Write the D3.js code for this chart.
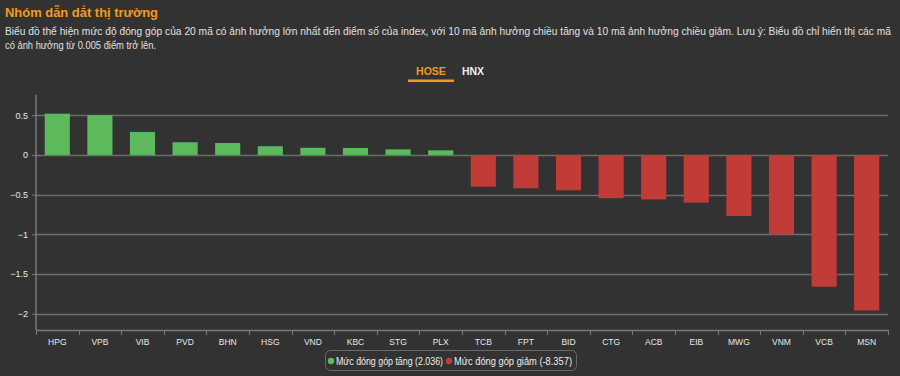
<!DOCTYPE html>
<html>
<head>
<meta charset="utf-8">
<script src="https://cdn.jsdelivr.net/npm/d3@7"></script>
<style>
  body { margin: 0; background: #323232; font-family: "Liberation Sans", Arial, sans-serif; }
  svg { display: block; }
</style>
</head>
<body>
<script>
// ma chung khoan va muc dong gop
let maCK = ["HPG", "VPB", "VIB", "PVD", "BHN", "HSG", "VND", "KBC", "STG", "PLX",
            "TCB", "FPT", "BID", "CTG", "ACB", "EIB", "MWG", "VNM", "VCB", "MSN"];
let dongGop = [0.52, 0.5, 0.29, 0.16, 0.15, 0.11, 0.09, 0.088, 0.07, 0.058,
               -0.40, -0.42, -0.445, -0.545, -0.56, -0.6, -0.77, -1.0, -1.66, -1.96];
let yTicks = [0.5, 0, -0.5, -1, -1.5, -2];
let tongTang = "2.036";
let tongGiam = "-8.357";

let width = 900;
let height = 376;
let marges = { top: 96, right: 12, bottom: 46, left: 36 };

let svg = d3.select("body").append("svg")
    .attr("width", width)
    .attr("height", height);

// Tieu de
svg.append("text")
    .attr("x", 5).attr("y", 17)
    .attr("fill", "#f39a1e")
    .style("font-size", "13.5px")
    .style("font-weight", "bold")
    .attr("textLength", 153)
    .attr("lengthAdjust", "spacingAndGlyphs")
    .text("Nhóm dẫn dắt thị trường");

let moTa = ["Biểu đồ thể hiện mức độ đóng góp của 20 mã có ảnh hưởng lớn nhất đến điểm số của index, với 10 mã ảnh hưởng chiều tăng và 10 mã ảnh hưởng chiều giảm. Lưu ý: Biểu đồ chỉ hiển thị các mã",
            "có ảnh hưởng từ 0.005 điểm trở lên."];
let moTaDai = [886, 151];
svg.selectAll(".mota").data(moTa).enter().append("text")
    .attr("class", "mota")
    .attr("x", 5)
    .attr("y", (d, i) => 35 + i * 14)
    .attr("fill", "#e0e0e0")
    .style("font-size", "10.6px")
    .attr("textLength", (d, i) => moTaDai[i])
    .attr("lengthAdjust", "spacingAndGlyphs")
    .text(d => d);

// Tabs
svg.append("text").attr("x", 431).attr("y", 75)
    .attr("text-anchor", "middle")
    .attr("fill", "#f39a1e")
    .style("font-size", "10.5px").style("font-weight", "bold")
    .text("HOSE");
svg.append("rect").attr("x", 408).attr("y", 79.5).attr("width", 46).attr("height", 2.5)
    .attr("fill", "#f39a1e");
svg.append("text").attr("x", 473).attr("y", 75)
    .attr("text-anchor", "middle")
    .attr("fill", "#eeeeee")
    .style("font-size", "10.5px").style("font-weight", "bold")
    .text("HNX");

let x = d3.scaleBand()
    .domain(maCK)
    .range([marges.left, width - marges.right])
    .paddingInner(0.41)
    .paddingOuter(0.205);

let y = d3.scaleLinear()
    .domain([-2.205, 0.755])
    .range([height - marges.bottom, marges.top - 1]);

// Luoi ngang
svg.append("g")
    .selectAll("line")
    .data(yTicks)
    .enter().append("line")
    .attr("x1", marges.left).attr("x2", width - marges.right)
    .attr("y1", d => Math.round(y(d)) + 0.5)
    .attr("y2", d => Math.round(y(d)) + 0.5)
    .attr("stroke", "#6e6e6e")
    .attr("stroke-width", 1.5);

// Truc y
let axeY = svg.append("g")
    .attr("transform", "translate(" + marges.left + ",0)")
    .call(d3.axisLeft(y).tickValues(yTicks).tickSize(4).tickPadding(4).tickFormat(d => d3.format("")(d)));
axeY.select(".domain").attr("stroke", "#7a7a7a").attr("stroke-width", 1.5)
    .attr("d", "M0," + y.range()[1] + "V" + y.range()[0]);
axeY.selectAll(".tick line").attr("stroke", "#7a7a7a");
axeY.selectAll(".tick text").attr("fill", "#e8e8e8")
    .style("font-size", "9px").style("font-family", "Liberation Sans, Arial, sans-serif");

// Truc x
let yBas = y.range()[0];
let axeX = svg.append("g")
    .attr("transform", "translate(0," + yBas + ")")
    .call(d3.axisBottom(x).tickSize(0).tickPadding(9));
axeX.select(".domain").attr("stroke", "#7a7a7a").attr("stroke-width", 1.5);
axeX.selectAll(".tick text").attr("fill", "#e8e8e8")
    .style("font-size", "8.5px").style("font-family", "Liberation Sans, Arial, sans-serif");

// Vach chia giua cac ma
let bornes = maCK.map(d => x(d) - x.step() * x.paddingInner() / 2 - (d === maCK[0] ? x.step() * (x.paddingOuter() - x.paddingInner() / 2) : 0));
bornes.push(width - marges.right);
svg.append("g").selectAll("line")
    .data(bornes)
    .enter().append("line")
    .attr("x1", d => Math.round(d) + 0.5).attr("x2", d => Math.round(d) + 0.5)
    .attr("y1", yBas).attr("y2", yBas + 5)
    .attr("stroke", "#7a7a7a");

// Cot
svg.append("g")
    .selectAll("rect")
    .data(maCK)
    .enter().append("rect")
    .attr("x", d => x(d))
    .attr("width", x.bandwidth())
    .attr("y", (d, i) => y(Math.max(0, dongGop[i])))
    .attr("height", (d, i) => Math.abs(y(dongGop[i]) - y(0)))
    .attr("fill", (d, i) => dongGop[i] >= 0 ? "#5cba5c" : "#c13b37");

// Chu giai
let legende = svg.append("g");
legende.append("rect")
    .attr("x", 325.5).attr("y", 350.5).attr("width", 251).attr("height", 20)
    .attr("rx", 5)
    .attr("fill", "none")
    .attr("stroke", "#6a6a6a");
let items = [
    { label: "Mức đóng góp tăng (" + tongTang + ")", color: "#5cba5c", x: 331, len: 107 },
    { label: "Mức đóng góp giảm (" + tongGiam + ")", color: "#c13b37", x: 449, len: 118 }
];
items.forEach(function(it) {
    legende.append("circle").attr("cx", it.x).attr("cy", 361).attr("r", 3.2).attr("fill", it.color);
    legende.append("text").attr("x", it.x + 5).attr("y", 364.5)
        .attr("fill", "#eeeeee")
        .style("font-size", "10px")
        .attr("textLength", it.len)
        .attr("lengthAdjust", "spacingAndGlyphs")
        .text(it.label);
});
</script>
</body>
</html>
